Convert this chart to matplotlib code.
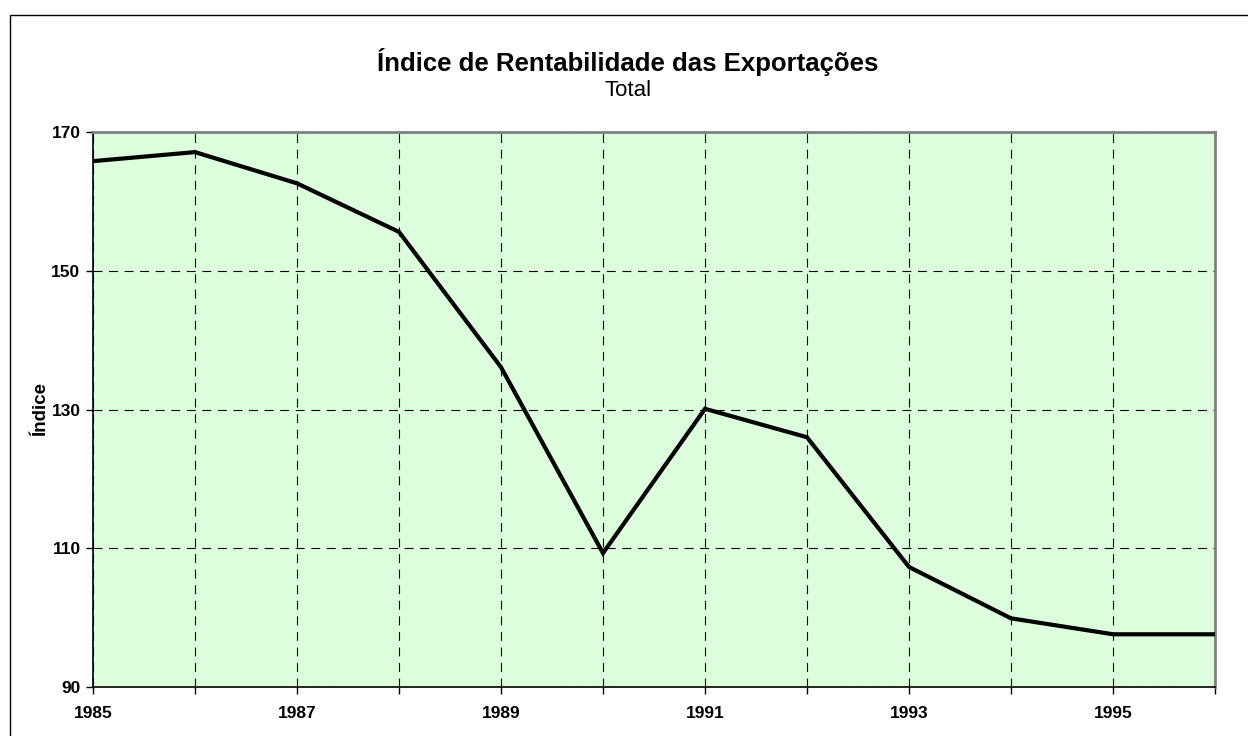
import matplotlib
matplotlib.use('Agg')
import matplotlib.pyplot as plt
from matplotlib.patches import Rectangle

plt.rcParams['font.family'] = ['Liberation Sans', 'DejaVu Sans']

# data
years = [1985, 1986, 1987, 1988, 1989, 1990, 1991, 1992, 1993, 1994, 1995, 1996]
indice = [165.8, 167.1, 162.6, 155.6, 136.1, 109.3, 130.1, 126.0, 107.3, 99.9, 97.6, 97.6]
x_tick_labels = ['1985', '', '1987', '', '1989', '', '1991', '', '1993', '', '1995', '']
y_ticks = [90, 110, 130, 150, 170]

TITLE = "Índice de Rentabilidade das Exportações"
SUBTITLE = "Total"
Y_LABEL = "Índice"

fig = plt.figure(figsize=(12.48, 7.36), dpi=100)
ax = fig.add_axes([93/1248, 1 - 687/736, (1215 - 93)/1248, (687 - 132)/736])

# outer chart border (right/bottom fall outside the image)
fig.patches.append(Rectangle((9.5/1248, -0.1), 1.2, 1 - 14.5/736 + 0.1,
                             transform=fig.transFigure, fill=False,
                             edgecolor='black', linewidth=1.0))

ax.set_facecolor('#ddfedd')
ax.plot(years, indice, '-', color='black', lw=3.0, solid_joinstyle='miter', zorder=3)

ax.set_xlim(1985, 1996)
ax.set_ylim(90, 170)
ax.set_xticks(years)
ax.set_xticklabels(x_tick_labels, fontsize=12.5, fontweight='bold')
ax.set_yticks(y_ticks)
ax.set_yticklabels([str(v) for v in y_ticks], fontsize=12.5, fontweight='bold')
ax.tick_params(direction='out', length=5, width=1, color='black', pad=4)
ax.tick_params(axis='x', pad=9)

ax.grid(True, color='black', linestyle=(0, (8, 6)), linewidth=0.8)
ax.set_axisbelow(True)

for s in ['top', 'right']:
    ax.spines[s].set_color('#808080')
    ax.spines[s].set_linewidth(2)
for s in ['left', 'bottom']:
    ax.spines[s].set_color('black')
    ax.spines[s].set_linewidth(1.2)

ax.set_ylabel(Y_LABEL, fontsize=13.5, fontweight='bold', labelpad=2)

fig.text(0.503, 1 - 62/736, TITLE, ha='center', va='center', fontsize=18.5, fontweight='bold')
fig.text(0.503, 1 - 90/736, SUBTITLE, ha='center', va='center', fontsize=16)

fig.savefig('out.png', dpi=100)
